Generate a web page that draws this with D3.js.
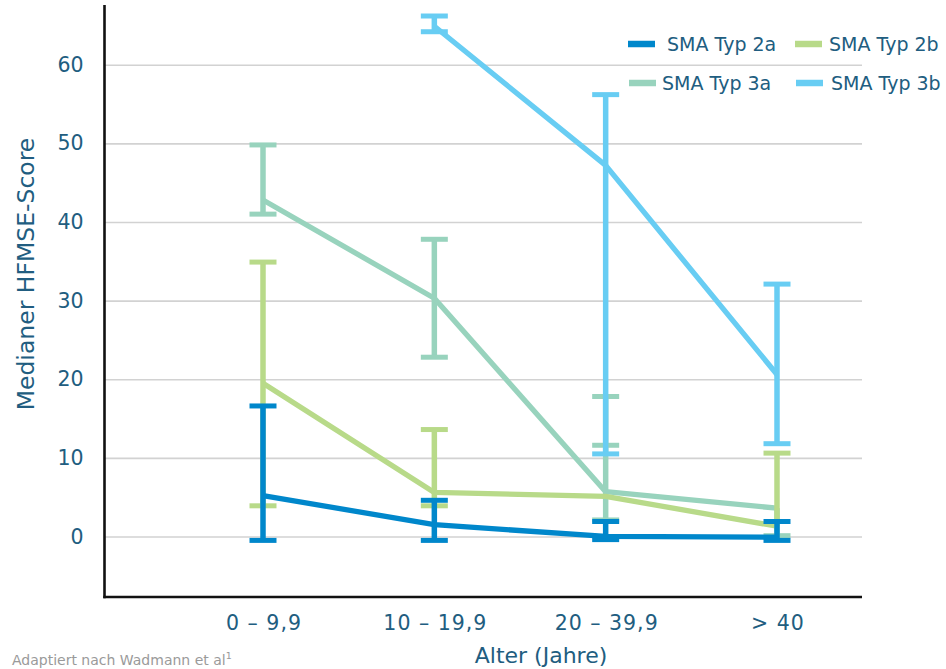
<!DOCTYPE html>
<html>
<head>
<meta charset="utf-8">
<script src="https://cdn.jsdelivr.net/npm/d3@7"></script>
<style>
  html, body { margin: 0; padding: 0; background: #fff; }
  svg { display: block; font-family: "DejaVu Sans", Verdana, sans-serif; }
</style>
</head>
<body>
<svg id="chart" width="946" height="669"></svg>
<script>
// ---- data ----
const categories = ["0 – 9,9", "10 – 19,9", "20 – 39,9", "> 40"];
const seriesNames = ["SMA Typ 2a", "SMA Typ 2b", "SMA Typ 3a", "SMA Typ 3b"];
const seriesColors = ["#0087cb", "#b8da89", "#98d3bd", "#68cdf3"];

const typ2aMedian = [5.2, 1.5, 0.0, -0.1];
const typ2aLow    = [-0.5, -0.5, -0.4, -0.5];
const typ2aHigh   = [16.6, 4.6, 1.9, 1.9];

const typ2bMedian = [19.5, 5.6, 5.1, 1.3];
const typ2bLow    = [3.9, 3.9, null, null];
const typ2bHigh   = [34.9, 13.6, null, 10.6];

const typ3aMedian = [42.8, 30.3, 5.7, 3.6];
const typ3aLow    = [41.0, 22.8, 2.1, 0.1];
const typ3aHigh   = [49.8, 37.8, 17.8, null];
const typ3aExtraCap = [null, null, 11.6, null];

const typ3bMedian = [null, 64.9, 47.2, 20.6];
const typ3bLow    = [null, 64.2, 10.5, 11.8];
const typ3bHigh   = [null, 66.2, 56.2, 32.1];

const yTicks = [0, 10, 20, 30, 40, 50, 60];
const xTitle = "Alter (Jahre)";
const yTitle = "Medianer HFMSE-Score";
const footnote = "Adaptiert nach Wadmann et al";

// ---- build ----
const series = [
  { name: seriesNames[0], color: seriesColors[0], med: typ2aMedian, lo: typ2aLow, hi: typ2aHigh, extra: [] },
  { name: seriesNames[1], color: seriesColors[1], med: typ2bMedian, lo: typ2bLow, hi: typ2bHigh, extra: [] },
  { name: seriesNames[2], color: seriesColors[2], med: typ3aMedian, lo: typ3aLow, hi: typ3aHigh, extra: typ3aExtraCap },
  { name: seriesNames[3], color: seriesColors[3], med: typ3bMedian, lo: typ3bLow, hi: typ3bHigh, extra: [] }
];
const drawOrder = [2, 1, 3, 0];

const svg = d3.select("#chart");
const textColor = "#215d80";

const plotLeft = 104.5, plotRight = 862, plotTop = 5, plotBottom = 597;
const x = d3.scalePoint().domain(categories).range([263, 777]);
const y = d3.scaleLinear().domain([-7.7, 67.6]).range([plotBottom, plotTop]);

// gridlines + y tick labels
const yAxis = d3.axisLeft(y).tickValues(yTicks).tickFormat(d3.format("d"))
  .tickSizeInner(-(plotRight - plotLeft)).tickSizeOuter(0).tickPadding(21);
const gy = svg.append("g").attr("transform", `translate(${plotLeft},0)`).call(yAxis);
gy.select(".domain").remove();
gy.selectAll(".tick line").attr("stroke", "#d2d2d2").attr("stroke-width", 1.6);
gy.selectAll(".tick text").attr("fill", textColor).attr("font-size", 20.5)
  .attr("font-family", "DejaVu Sans, Verdana, sans-serif");

// x axis labels
const xAxis = d3.axisBottom(x).tickSize(0).tickPadding(18);
const gx = svg.append("g").attr("transform", `translate(0,${plotBottom})`).call(xAxis);
gx.select(".domain").remove();
gx.selectAll(".tick text").attr("fill", textColor).attr("font-size", 20.5)
  .attr("letter-spacing", "1px").attr("dx", "0.5px")
  .attr("font-family", "DejaVu Sans, Verdana, sans-serif");

// axis lines
svg.append("line").attr("x1", plotLeft).attr("x2", plotLeft).attr("y1", plotTop).attr("y2", plotBottom + 1.2)
  .attr("stroke", "#111").attr("stroke-width", 2.6);
svg.append("line").attr("x1", plotLeft - 1.2).attr("x2", plotRight).attr("y1", plotBottom).attr("y2", plotBottom)
  .attr("stroke", "#111").attr("stroke-width", 2.6);

// series
const capW = 27, lineW = 5.3, stemW = 5.5, capH = 5;
const lineGen = d3.line().defined(d => d.v != null).x(d => x(d.c)).y(d => y(d.v));

drawOrder.forEach(si => {
  const s = series[si];
  const g = svg.append("g");
  const pts = categories.map((c, i) => ({ c, v: s.med[i], lo: s.lo[i], hi: s.hi[i], ex: s.extra[i] }));
  // error bars
  pts.forEach(p => {
    if (p.v == null) return;
    const cx = x(p.c);
    const top = p.hi != null ? p.hi : p.v;
    const bot = p.lo != null ? p.lo : p.v;
    if (top !== bot) {
      g.append("line").attr("x1", cx).attr("x2", cx).attr("y1", y(top)).attr("y2", y(bot))
        .attr("stroke", s.color).attr("stroke-width", stemW);
    }
    [p.hi, p.lo, p.ex].forEach(cv => {
      if (cv == null) return;
      g.append("line").attr("x1", cx - capW / 2).attr("x2", cx + capW / 2)
        .attr("y1", y(cv)).attr("y2", y(cv))
        .attr("stroke", s.color).attr("stroke-width", capH);
    });
  });
  g.append("path").datum(pts).attr("d", lineGen)
    .attr("fill", "none").attr("stroke", s.color).attr("stroke-width", lineW)
    .attr("stroke-linejoin", "round");
});

// legend
const legendPos = [
  { sx: 628, tx: 667, y: 44 },
  { sx: 795, tx: 829, y: 44 },
  { sx: 629, tx: 662, y: 83 },
  { sx: 796, tx: 831, y: 83 }
];
series.forEach((s, i) => {
  const p = legendPos[i];
  svg.append("line").attr("x1", p.sx).attr("x2", p.sx + 27).attr("y1", p.y).attr("y2", p.y)
    .attr("stroke", s.color).attr("stroke-width", 6.5);
  svg.append("text").attr("x", p.tx).attr("y", p.y).attr("dy", "0.35em")
    .attr("fill", textColor).attr("font-size", 19).text(s.name);
});

// axis titles
svg.append("text").attr("x", 541).attr("y", 663).attr("text-anchor", "middle")
  .attr("fill", textColor).attr("font-size", 22).text(xTitle);
svg.append("text").attr("transform", "translate(34,274) rotate(-90)").attr("text-anchor", "middle")
  .attr("fill", textColor).attr("font-size", 23.5).text(yTitle);

// footnote
const fn = svg.append("text").attr("x", 12).attr("y", 665).attr("fill", "#9a9a9a").attr("font-size", 14).text(footnote);
fn.append("tspan").attr("font-size", 9.5).attr("dy", -6).text("1");
</script>
</body>
</html>
